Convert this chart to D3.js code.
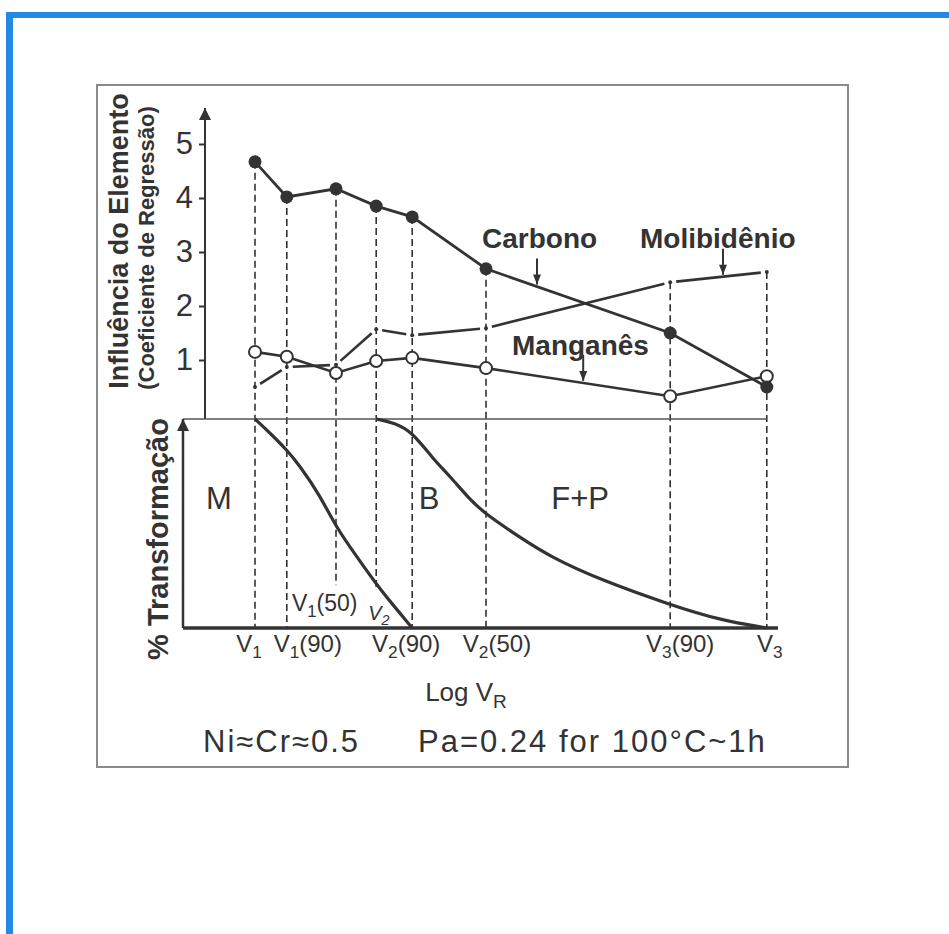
<!DOCTYPE html>
<html>
<head>
<meta charset="utf-8">
<script src="https://cdn.jsdelivr.net/npm/d3@7"></script>
<style>
body { margin: 0; background: #fff; }
svg text { font-family: "Liberation Sans", Arial, sans-serif; fill: #333; }
</style>
</head>
<body>
<svg id="chart" width="949" height="934"></svg>
<script>
const tickNames = ["V1", "V1(90)", "V1(50)", "V2", "V2(90)", "V2(50)", "V3(90)", "V3"];
const tickPos = [12, 17.3, 25.5, 32.2, 38.2, 50.5, 81.2, 97.3];
const carbono = [4.67, 4.02, 4.17, 3.85, 3.65, 2.69, 1.50, 0.50];
const manganes = [1.15, 1.06, 0.76, 0.98, 1.04, 0.85, 0.33, 0.70];
const molibdenio = [0.50, 0.87, 0.91, 1.57, 1.46, 1.59, 2.44, 2.63];
const yTicks = [1, 2, 3, 4, 5];
const curveMX = [12, 14.5, 17.3, 19.5, 22.8, 25.5, 29, 32.3, 35.3, 38.2];
const curveMY = [100, 93.3, 85.2, 77.5, 63.6, 48.3, 34.0, 20.6, 10.0, 0];
const curveBX = [32.2, 35.3, 38.2, 41.7, 44.5, 47.8, 50.5, 56.2, 61.2, 69.5, 81.2, 89.5, 97.3];
const curveBY = [100, 98.1, 93.8, 80.8, 72.6, 61.5, 54.3, 43.3, 34.1, 23.1, 11.1, 3.8, 0];
const regionNames = ["M", "B", "F+P"];
const regionX = [6, 41, 66.2];
const regionY = 57;

const ink = "#333";
const svg = d3.select("#chart");

// frame
svg.append("rect").attr("x", 6).attr("y", 12).attr("width", 943).attr("height", 6).attr("fill", "#2389e4");
svg.append("rect").attr("x", 6).attr("y", 12).attr("width", 7).attr("height", 922).attr("fill", "#2389e4");
svg.append("rect").attr("x", 97).attr("y", 85).attr("width", 751).attr("height", 682)
    .attr("fill", "none").attr("stroke", "#8a8a8a").attr("stroke-width", 2);

const x = d3.scaleLinear().domain([0, 100]).range([183, 783]);
const y = d3.scaleLinear().domain([0, 5]).range([414, 144]);
const yp = d3.scaleLinear().domain([0, 100]).range([628, 419]);

const g = svg.append("g");

const defs = svg.append("defs");
defs.append("marker").attr("id", "head").attr("viewBox", "0 0 10 10")
    .attr("refX", 10).attr("refY", 5).attr("markerWidth", 11).attr("markerHeight", 10)
    .attr("markerUnits", "userSpaceOnUse").attr("orient", "auto")
    .append("path").attr("d", "M0,1 L10,5 L0,9 Z").attr("fill", ink);
defs.append("marker").attr("id", "axisHead").attr("viewBox", "0 0 10 10")
    .attr("refX", 10).attr("refY", 5).attr("markerWidth", 18).attr("markerHeight", 12)
    .attr("markerUnits", "userSpaceOnUse").attr("orient", "auto")
    .append("path").attr("d", "M0,0 L10,5 L0,10 Z").attr("fill", ink);

// dashed guide lines
const guideStop = {"V1(50)": 20.5, "V2": 19};
tickNames.forEach((name, i) => {
    const top = y(d3.max([carbono[i], manganes[i], molibdenio[i]]));
    const bottom = yp(guideStop[name] || 0);
    g.append("line")
        .attr("x1", x(tickPos[i])).attr("x2", x(tickPos[i]))
        .attr("y1", top).attr("y2", bottom)
        .attr("stroke", ink).attr("stroke-width", 1.6)
        .attr("stroke-dasharray", "7,4");
});

// upper panel axis
const upperX = 205;
g.append("line").attr("x1", upperX).attr("x2", upperX).attr("y1", yp(100)).attr("y2", 108)
    .attr("stroke", ink).attr("stroke-width", 2).attr("marker-end", "url(#axisHead)");
const yAxis = g.append("g")
    .attr("transform", "translate(" + upperX + ",0)")
    .call(d3.axisLeft(y).tickValues(yTicks).tickSize(6).tickPadding(6).tickFormat(d3.format("d")));
yAxis.select(".domain").remove();
yAxis.selectAll("line").attr("stroke", ink).attr("stroke-width", 2);
yAxis.selectAll("text").attr("font-size", 31).attr("fill", ink).attr("font-family", "Liberation Sans, Arial, sans-serif");

g.append("line").attr("x1", x(0)).attr("x2", x(tickPos[tickPos.length - 1]))
    .attr("y1", yp(100)).attr("y2", yp(100))
    .attr("stroke", "#555").attr("stroke-width", 1.5);

// lower panel axes
g.append("line").attr("x1", x(0)).attr("x2", x(0)).attr("y1", yp(0)).attr("y2", yp(100))
    .attr("stroke", ink).attr("stroke-width", 2.5).attr("marker-end", "url(#axisHead)");
g.append("line").attr("x1", x(0)).attr("x2", 778).attr("y1", yp(0)).attr("y2", yp(0))
    .attr("stroke", ink).attr("stroke-width", 3.5);

// series
const line = d3.line()
    .x((d, i) => { return x(tickPos[i]); })
    .y(d => { return y(d); });

g.append("path").datum(carbono).attr("d", line)
    .attr("fill", "none").attr("stroke", ink).attr("stroke-width", 2.8);
g.append("path").datum(manganes).attr("d", line)
    .attr("fill", "none").attr("stroke", ink).attr("stroke-width", 2.6);

// molibdenio: dashes broken at each point
molibdenio.forEach((v, i) => {
    if (i === molibdenio.length - 1) return;
    const x1 = x(tickPos[i]), y1 = y(v);
    const x2 = x(tickPos[i + 1]), y2 = y(molibdenio[i + 1]);
    const len = Math.hypot(x2 - x1, y2 - y1);
    const ux = (x2 - x1) / len, uy = (y2 - y1) / len;
    const gap = 6;
    g.append("line")
        .attr("x1", x1 + ux * gap).attr("y1", y1 + uy * gap)
        .attr("x2", x2 - ux * gap).attr("y2", y2 - uy * gap)
        .attr("stroke", ink).attr("stroke-width", 2.6);
});
g.selectAll(".mo").data(molibdenio).enter().append("circle")
    .attr("cx", (d, i) => { return x(tickPos[i]); })
    .attr("cy", d => { return y(d); })
    .attr("r", 2).attr("fill", ink);

g.selectAll(".mn").data(manganes).enter().append("circle")
    .attr("cx", (d, i) => { return x(tickPos[i]); })
    .attr("cy", d => { return y(d); })
    .attr("r", 6).attr("fill", "#fff").attr("stroke", ink).attr("stroke-width", 2);
g.selectAll(".c").data(carbono).enter().append("circle")
    .attr("cx", (d, i) => { return x(tickPos[i]); })
    .attr("cy", d => { return y(d); })
    .attr("r", 6.5).attr("fill", ink);

// series labels with arrows
const valueAt = (series, u) => {
    const i = d3.bisectRight(tickPos, u) - 1;
    const t = (u - tickPos[i]) / (tickPos[i + 1] - tickPos[i]);
    return series[i] + t * (series[i + 1] - series[i]);
};
const labels = [
    {name: "Carbono", series: carbono, arrowX: 59, tx: 482, ty: 248},
    {name: "Molibidênio", series: molibdenio, arrowX: 90, tx: 640, ty: 248},
    {name: "Manganês", series: manganes, arrowX: 66.7, tx: 512, ty: 355}
];
labels.forEach(l => {
    g.append("text").attr("x", l.tx).attr("y", l.ty)
        .attr("font-size", 28).attr("font-weight", "bold").text(l.name);
    const tipY = y(valueAt(l.series, l.arrowX)) - 2;
    g.append("line")
        .attr("x1", x(l.arrowX)).attr("x2", x(l.arrowX))
        .attr("y1", tipY - 26).attr("y2", tipY)
        .attr("stroke", ink).attr("stroke-width", 2).attr("marker-end", "url(#head)");
});

// transformation curves
const curve = d3.line()
    .x(d => { return x(d[0]); })
    .y(d => { return yp(d[1]); })
    .curve(d3.curveBasis);
g.append("path").datum(d3.zip(curveMX, curveMY)).attr("d", curve)
    .attr("fill", "none").attr("stroke", ink).attr("stroke-width", 3.2);
g.append("path").datum(d3.zip(curveBX, curveBY)).attr("d", curve)
    .attr("fill", "none").attr("stroke", ink).attr("stroke-width", 3.2);

regionNames.forEach((name, i) => {
    g.append("text").attr("x", x(regionX[i])).attr("y", yp(regionY))
        .attr("text-anchor", "middle").attr("font-size", 31).text(name);
});

// V labels
const vLabel = (sel, name, size) => {
    const m = name.match(/^V(\d)(.*)$/);
    sel.append("tspan").text("V");
    sel.append("tspan").attr("font-size", size * 0.72).attr("dy", size * 0.25).text(m[1]);
    if (m[2]) sel.append("tspan").attr("dy", -size * 0.25).text(m[2]);
};
const bottomDx = {"V1": -6, "V1(90)": 21, "V2(90)": -6, "V2(50)": 11, "V3(90)": 10, "V3": 3};
tickNames.forEach((name, i) => {
    if (!(name in bottomDx)) return;
    const t = g.append("text")
        .attr("x", x(tickPos[i]) + bottomDx[name]).attr("y", 652)
        .attr("text-anchor", "middle").attr("font-size", 24);
    vLabel(t, name, 24);
});
vLabel(g.append("text").attr("x", x(tickPos[2]) - 44).attr("y", 611).attr("font-size", 23), "V1(50)", 23);
vLabel(g.append("text").attr("x", x(tickPos[3]) - 8).attr("y", 620).attr("font-size", 20)
    .attr("font-style", "italic"), "V2", 20);

// axis titles
g.append("text").attr("transform", "translate(128,241) rotate(-90)")
    .attr("text-anchor", "middle").attr("font-size", 27).attr("font-weight", "bold")
    .text("Influência do Elemento");
g.append("text").attr("transform", "translate(154,248) rotate(-90)")
    .attr("text-anchor", "middle").attr("font-size", 22).attr("font-weight", "bold")
    .text("(Coeficiente de Regressão)");
g.append("text").attr("transform", "translate(168,539) rotate(-90)")
    .attr("text-anchor", "middle").attr("font-size", 29).attr("font-weight", "bold")
    .text("% Transformação");

const logLabel = g.append("text").attr("x", 466).attr("y", 701)
    .attr("text-anchor", "middle").attr("font-size", 26);
logLabel.append("tspan").text("Log V");
logLabel.append("tspan").attr("font-size", 19).attr("dy", 7).text("R");

g.append("text").attr("x", 203).attr("y", 752).attr("font-size", 31)
    .attr("letter-spacing", 2).text("Ni≈Cr≈0.5");
g.append("text").attr("x", 418).attr("y", 752).attr("font-size", 31)
    .attr("letter-spacing", 2).text("Pa=0.24 for 100°C~1h");
</script>
</body>
</html>
